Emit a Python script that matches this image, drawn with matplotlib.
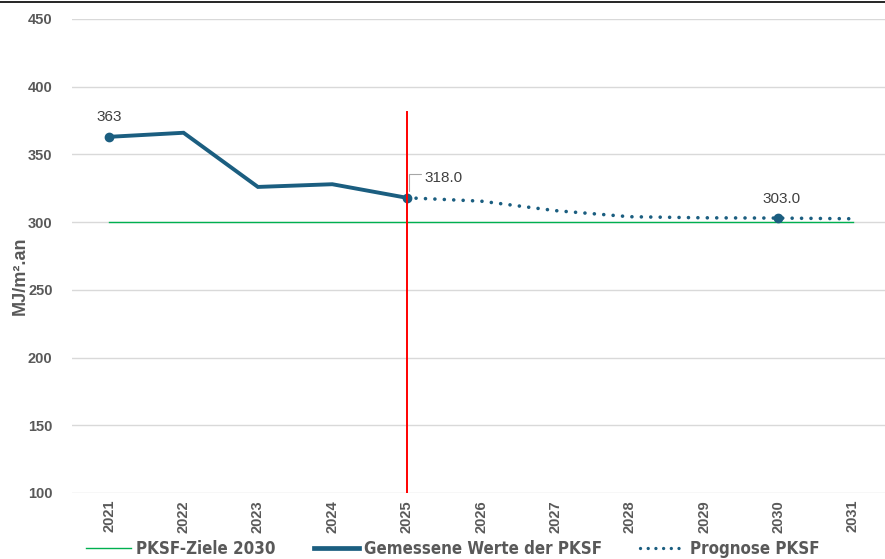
import matplotlib
matplotlib.use('Agg')
import matplotlib.pyplot as plt
from matplotlib.lines import Line2D

# Energy consumption index in MJ/m².an
years = [2021, 2022, 2023, 2024, 2025, 2026, 2027, 2028, 2029, 2030, 2031]
measured_years = [2021, 2022, 2023, 2024, 2025]
measured = [363, 366, 326, 328, 318]
forecast_years = [2025, 2026, 2027, 2028, 2029, 2030, 2031]
forecast = [318, 315.5, 308.5, 304, 303.2, 303, 302.5]
target_years = [2021, 2031]
target = [300, 300]
current_year = 2025
current_line = [100, 381]

blue = '#1B5E80'
gray = '#595959'

plt.rcParams['font.family'] = ['Liberation Sans', 'DejaVu Sans']

fig = plt.figure(figsize=(8.85, 5.59), dpi=100)
ax = fig.add_axes([72 / 885, 1 - 493 / 559, 818 / 885, 474 / 559])

ax.set_xlim(2020.5, 2031.5)
ax.set_ylim(100, 450)
ax.set_yticks(range(100, 451, 50))
ax.set_xticks(years)
ax.set_xticklabels([str(y) for y in years], rotation=90, fontsize=10.5,
                   fontweight='bold', color=gray)
ax.tick_params(axis='y', labelsize=10.5, labelcolor=gray, length=0, pad=14)
for lbl in ax.get_yticklabels():
    lbl.set_fontweight('bold')
ax.tick_params(axis='x', length=0, pad=5)
ax.grid(axis='y', color='#D9D9D9', lw=1)
ax.set_axisbelow(True)
for s in ax.spines.values():
    s.set_visible(False)

# target 2030
ax.plot(target_years, target, color='#00B050', lw=1.0, zorder=2)
# measured values
ax.plot(measured_years, measured, color=blue, lw=2.8, solid_joinstyle='miter', zorder=3)
# forecast
ax.plot(forecast_years, forecast, color=blue, lw=2.6,
        linestyle=(0, (0.01, 2.6)), dash_capstyle='round', zorder=3)
# labelled points
ax.plot([2021, 2025, 2030], [measured[0], measured[-1], forecast[5]], 'o',
        color=blue, ms=6, zorder=4)
# current year marker
ax.plot([current_year, current_year], current_line, color='#FF0000', lw=1.4, zorder=5)

ax.annotate(f'{measured[0]}', (2021, measured[0]), xytext=(0, 9),
            textcoords='offset points', ha='center', va='bottom',
            fontsize=11, color='#404040')
ax.annotate(f'{forecast[5]:.1f}', (2030, forecast[5]), xytext=(2, 9),
            textcoords='offset points', ha='center', va='bottom',
            fontsize=11, color='#404040')
ax.annotate(f'{measured[-1]:.1f}', (2025, measured[-1]), xytext=(13, 9),
            textcoords='offset points', ha='left', va='bottom',
            fontsize=11, color='#404040')
# leader line for the 2025 label
ax.annotate('', (2025.03, measured[-1] + 5), xytext=(9, 12), textcoords='offset points',
            arrowprops=dict(arrowstyle='-', color='#A6A6A6', lw=0.8,
                            connectionstyle='angle,angleA=0,angleB=90,rad=0',
                            shrinkA=0, shrinkB=0))

fig.text(20 / 885, 1 - 276 / 559, 'MJ/m².an', rotation=90, ha='center', va='center',
         fontsize=13, fontweight='bold', color=gray)

handles = [
    Line2D([], [], color='#00B050', lw=1.0),
    Line2D([], [], color=blue, lw=3.4),
    Line2D([], [], color=blue, lw=2.4, linestyle=(0, (0.01, 2.3)), dash_capstyle='round'),
]
labels = ['PKSF-Ziele 2030', 'Gemessene Werte der PKSF', 'Prognose PKSF']
leg = fig.legend(handles, labels, loc='center', ncol=3, frameon=False,
                 bbox_to_anchor=(453 / 885, 1 - 549 / 559),
                 prop={'family': 'DejaVu Sans', 'stretch': 'condensed',
                       'weight': 'bold', 'size': 12.2},
                 handlelength=2.65, handletextpad=0.3, columnspacing=2.25)
for t in leg.get_texts():
    t.set_color(gray)

# top border
fig.add_artist(Line2D([0, 1], [1 - 2 / 559, 1 - 2 / 559], color='black', lw=1.2))

fig.savefig('out.png', dpi=100)
